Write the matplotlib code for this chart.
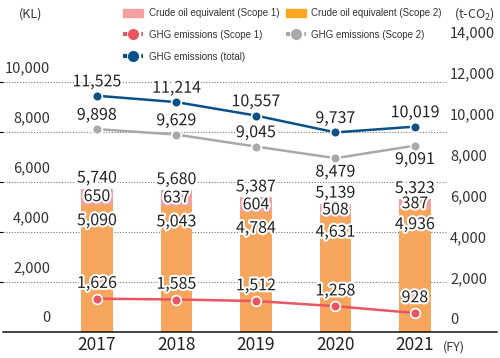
import numpy as np
import matplotlib
matplotlib.use('Agg')
import matplotlib.pyplot as plt
import matplotlib.patheffects as pe
from matplotlib.lines import Line2D
from matplotlib.patches import Patch

plt.rcParams['font.family'] = ['Noto Sans CJK JP', 'DejaVu Sans']
plt.rcParams['mathtext.fontset'] = 'custom'
plt.rcParams['mathtext.rm'] = 'Noto Sans CJK JP'

years = ['2017', '2018', '2019', '2020', '2021']
crude_s2 = [5090, 5043, 4784, 4631, 4936]
crude_s1 = [650, 637, 604, 508, 387]
crude_total = [5740, 5680, 5387, 5139, 5323]
ghg_s1 = [1626, 1585, 1512, 1258, 928]
ghg_s2 = [9898, 9629, 9045, 8479, 9091]
ghg_total = [11525, 11214, 10557, 9737, 10019]

c_orange = '#f5a55c'
c_pink = '#f4a0a0'
c_red = '#ea5463'
c_gray = '#a9a9ab'
c_blue = '#0a5189'
txt = '#222222'
halo = [pe.withStroke(linewidth=3, foreground='white')]

fig = plt.figure(figsize=(5, 3.58), dpi=100)
W, H = 500, 358
ax = fig.add_axes([3 / W, 26 / H, 444 / W, 287 / H])
x = np.arange(len(years))
ax.set_xlim(-1.182, 4.403)
ax.set_ylim(0, 11480)

ax.bar(x, crude_s2, width=0.4, color=c_orange, zorder=2)
ax.bar(x, crude_s1, width=0.4, bottom=crude_s2, color=c_pink, zorder=2)

ax.set_yticks(range(2000, 10001, 2000))
ax.grid(axis='y', color='#777777', linestyle=(0, (1, 1.5)), linewidth=0.8)
ax.set_axisbelow(True)
ax.tick_params(left=False, bottom=False, labelleft=False, labelbottom=False)
for s in ax.spines.values():
    s.set_visible(False)

# left axis labels, drawn above the gridlines
for v in range(0, 10001, 2000):
    ax.annotate(f'{v:,}', xy=(0.106, v), xycoords=('axes fraction', 'data'),
                xytext=(0, 10), textcoords='offset points', ha='right', va='center',
                fontsize=10.5, color='#333333')

# bar labels
for i in x:
    ax.annotate(f'{crude_total[i]:,}', xy=(i, crude_total[i]), xytext=(0, 7.5),
                textcoords='offset points', ha='center', va='center', fontsize=11.5,
                color=txt, path_effects=halo, zorder=6)
    ax.annotate(f'{crude_s1[i]:,}', xy=(i, crude_s2[i] + crude_s1[i] / 2),
                ha='center', va='center', fontsize=11.5, color=txt,
                path_effects=halo, zorder=6)
    ax.annotate(f'{crude_s2[i]:,}', xy=(i, crude_s2[i]), xytext=(0, -11.5),
                textcoords='offset points', ha='center', va='center', fontsize=11.5,
                color=txt, path_effects=halo, zorder=6)
    ax.annotate(years[i], xy=(i, 0), xycoords=('data', 'axes fraction'),
                xytext=(0, -9.5), textcoords='offset points', ha='center', va='center',
                fontsize=12.5, color=txt)
fig.text(454 / W, 1 - 347 / H, '(FY)', ha='center', va='center', fontsize=9,
         color='#333333')

# right axis
ax2 = ax.twinx()
ax2.set_ylim(0, 14000)
for s in ax2.spines.values():
    s.set_visible(False)
ax2.tick_params(right=False, labelright=False)
for v in range(0, 14001, 2000):
    ax2.annotate(f'{v:,}', xy=(1.0068, v), xycoords=('axes fraction', 'data'),
                 xytext=(0, 8.6), textcoords='offset points', ha='left', va='center',
                 fontsize=10.5, color='#333333', annotation_clip=False)

for vals, col in [(ghg_total, c_blue), (ghg_s2, c_gray), (ghg_s1, c_red)]:
    ax2.plot(x, vals, color=col, lw=1.8, marker='o', ms=7, mfc=col, mec='white',
             mew=1.2, zorder=4, clip_on=False)

for i in x:
    ax2.annotate(f'{ghg_total[i]:,}', xy=(i, ghg_total[i]), xytext=(0, 10),
                 textcoords='offset points', ha='center', va='center', fontsize=11.5,
                 color=txt, path_effects=halo, zorder=6)
    dy = 10 if i < 3 else -10
    ax2.annotate(f'{ghg_s2[i]:,}', xy=(i, ghg_s2[i]), xytext=(0, dy),
                 textcoords='offset points', ha='center', va='center', fontsize=11.5,
                 color=txt, path_effects=halo, zorder=6)
    ax2.annotate(f'{ghg_s1[i]:,}', xy=(i, ghg_s1[i]), xytext=(0, 11),
                 textcoords='offset points', ha='center', va='center', fontsize=11.5,
                 color=txt, path_effects=halo, zorder=6)

# baseline
fig.add_artist(Line2D([3 / W, 497 / W], [26 / H, 26 / H], color='#111111', lw=1.1))

# units
fig.text(31 / W, 1 - 14 / H, '(KL)', ha='center', va='center', fontsize=9, color='#333333')
fig.text(474 / W, 1 - 14 / H, r'(t-CO$_{\mathregular{2}}$)', ha='center', va='center',
         fontsize=9, color='#333333')

# legend
handles = [
    Patch(color=c_pink, label='Crude oil equivalent (Scope 1)'),
    Line2D([], [], color=c_red, lw=3, ls=(0, (1, 1.2)), marker='o', ms=7,
           label='GHG emissions (Scope 1)'),
    Line2D([], [], color=c_blue, lw=3, ls=(0, (1, 1.2)), marker='o', ms=7,
           label='GHG emissions (total)'),
    Patch(color='#ffa81f', label='Crude oil equivalent (Scope 2)'),
    Line2D([], [], color=c_gray, lw=3, ls=(0, (1, 1.2)), marker='o', ms=7,
           label='GHG emissions (Scope 2)'),
]
fig.legend(handles=handles, ncol=2, loc='upper left', bbox_to_anchor=(123 / W, 1 - 8.5 / H),
           frameon=False, prop={'family': 'Liberation Sans', 'size': 7},
           handlelength=2.1, handleheight=0.9, handletextpad=0.55, columnspacing=0.65,
           labelspacing=1.2, borderpad=0, borderaxespad=0, labelcolor='#333333')

fig.savefig('out.png', dpi=100)
